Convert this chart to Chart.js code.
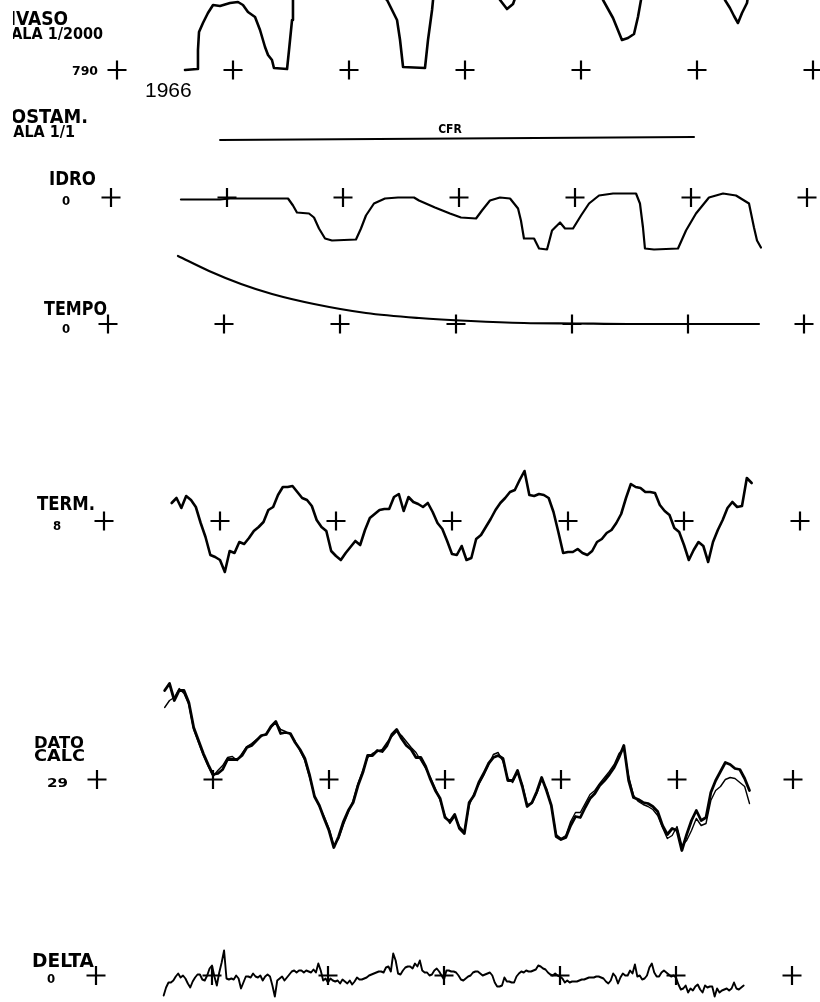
<!DOCTYPE html>
<html>
<head>
<meta charset="utf-8">
<title>Invaso 1966</title>
<script src="https://cdn.jsdelivr.net/npm/chart.js@4.4.0/dist/chart.umd.min.js"></script>
<style>
  html, body { margin: 0; padding: 0; background: #fff; }
  canvas { display: block; }
</style>
</head>
<body>
<canvas id="grafico" width="820" height="1002"></canvas>
<script>
// anni delle croci di riferimento (una croce per anno)
const anniCroci = [1965, 1966, 1967, 1968, 1969, 1970, 1971];

// valori di riferimento scritti accanto alla prima croce
const valoriRif = { invaso: 790, costam: 0, idro: 0, tempo: 0, term: 8, dato: 29, delta: 0 };

// serie fitte: mezzo mese (DELTA un quarto di mese)
const inizioSerie = 1965 + 7 / 12;
const passoSerie = 1 / 24;
const passoDelta = 1 / 48;

// INVASO (scala 1/2000)
const invasoAnni = [1965.586, 1965.690, 1965.698, 1965.707, 1965.741, 1965.784, 1965.828, 1965.888, 1965.974, 1966.043,
  1966.086, 1966.129, 1966.190, 1966.233, 1966.276, 1966.302, 1966.336, 1966.353, 1966.466, 1966.483,
  1966.509, 1966.517, 1966.534, 1966.922, 1967.328, 1967.414, 1967.440, 1967.466, 1967.655, 1967.681,
  1967.716, 1967.733, 1968.000, 1968.276, 1968.302, 1968.362, 1968.414, 1968.457, 1968.819, 1969.147,
  1969.190, 1969.276, 1969.353, 1969.405, 1969.457, 1969.491, 1969.517, 1969.534, 1969.897, 1970.216,
  1970.241, 1970.284, 1970.319, 1970.353, 1970.388, 1970.431, 1970.448, 1970.500];
const invasoQuote = [790, 790.5, 800, 809, 813.5, 818.5, 822.5, 822, 823.5, 824,
  822.5, 819, 816.5, 810, 801.5, 797.5, 795, 791, 790.5, 800,
  815, 825, 835, 845, 825, 815, 805, 791.5, 791, 805,
  820, 830, 845, 830, 825, 820.5, 823, 830, 845, 830,
  825, 816, 805, 806, 808, 816.5, 825, 830, 845, 830,
  825, 821, 817, 813.5, 818.5, 823.5, 830, 840];

// COSTAM. (scala 1/1) - linea CFR
const cfrAnni = [1965.940, 1970.026];
const cfrValori = [2.0, 2.3];

// IDRO
const idroAnni = [1965.603, 1965.940, 1966.026, 1966.526, 1966.569, 1966.603, 1966.707, 1966.750, 1966.793, 1966.845,
  1966.905, 1967.112, 1967.155, 1967.198, 1967.267, 1967.362, 1967.474, 1967.612, 1967.655, 1967.793,
  1967.922, 1968.017, 1968.147, 1968.198, 1968.267, 1968.353, 1968.440, 1968.509, 1968.534, 1968.560,
  1968.647, 1968.690, 1968.759, 1968.802, 1968.871, 1968.914, 1968.983, 1969.052, 1969.121, 1969.207,
  1969.328, 1969.526, 1969.560, 1969.586, 1969.603, 1969.681, 1969.888, 1969.957, 1970.043, 1970.155,
  1970.276, 1970.388, 1970.500, 1970.543, 1970.569, 1970.603];
const idroValori = [-0.2, -0.2, -0.1, -0.1, -0.8, -1.5, -1.6, -2.0, -3.1, -4.1,
  -4.3, -4.2, -3.1, -1.8, -0.6, -0.1, 0, 0, -0.3, -1.0,
  -1.6, -2.0, -2.1, -1.3, -0.3, 0, -0.1, -1.1, -2.3, -4.1,
  -4.1, -5.1, -5.2, -3.3, -2.5, -3.1, -3.1, -1.8, -0.6, 0.2,
  0.4, 0.4, -0.6, -3.0, -5.1, -5.2, -5.1, -3.3, -1.6, 0,
  0.4, 0.2, -0.6, -3.0, -4.3, -5.0];

// TEMPO
const tempoAnni = [1965.603, 1965.871, 1966.147, 1966.414, 1966.776, 1967.224, 1967.681, 1968.129, 1968.586, 1969.034,
  1969.483, 1969.940, 1970.612];
const tempoValori = [68, 53, 40, 30, 20, 11, 6, 3, 1, 0.5, 0, 0, 0];

// TERM.
const termValori = [11.6, 12.6, 10.6, 13.0, 12.2, 10.8, 7.6, 4.8, 1.2, 0.8,
  0.2, -2.2, 2.0, 1.6, 3.8, 3.4, 4.6, 6.0, 6.8, 7.8,
  10.2, 10.8, 13.2, 14.8, 14.8, 15.0, 13.8, 12.6, 12.2, 11.0,
  8.2, 6.8, 6.0, 2.0, 1.0, 0.2, 1.6, 2.8, 4.0, 3.2,
  6.2, 8.6, 9.4, 10.2, 10.4, 10.4, 12.8, 13.4, 10.0, 12.8,
  11.8, 11.4, 10.8, 11.6, 9.8, 7.6, 6.4, 4.0, 1.4, 1.2,
  3.0, 0.2, 0.6, 4.4, 5.2, 6.8, 8.4, 10.2, 11.6, 12.6,
  13.8, 14.2, 16.2, 18.0, 13.2, 13.0, 13.4, 13.2, 12.6, 9.8,
  5.8, 1.6, 1.8, 1.8, 2.4, 1.6, 1.2, 2.0, 3.8, 4.4,
  5.6, 6.2, 7.6, 9.4, 12.6, 15.4, 14.8, 14.6, 13.8, 13.8,
  13.6, 11.2, 10.0, 9.2, 6.6, 5.8, 3.2, 0.2, 2.2, 3.8,
  3.0, -0.2, 3.8, 6.2, 8.2, 10.6, 11.8, 10.8, 11.0, 16.6,
  15.6];

// DATO e CALC
const datoValori = [37.9, 38.6, 36.9, 37.9, 37.9, 36.7, 34.2, 32.9, 31.6, 30.5,
  29.5, 29.6, 30.0, 31.0, 31.0, 31.0, 31.4, 32.2, 32.4, 32.9,
  33.4, 33.5, 34.3, 34.8, 33.6, 33.7, 33.6, 32.7, 32.0, 31.1,
  29.4, 27.3, 26.4, 25.1, 23.9, 22.2, 23.3, 24.8, 25.9, 26.7,
  28.4, 29.7, 31.4, 31.4, 31.9, 31.8, 32.4, 33.5, 34.0, 33.1,
  32.4, 32.0, 31.2, 31.2, 30.3, 29.0, 27.9, 27.1, 25.2, 24.8,
  25.5, 24.1, 23.6, 26.7, 27.4, 28.7, 29.6, 30.6, 31.2, 31.4,
  31.1, 28.9, 28.9, 29.9, 28.3, 26.3, 26.7, 27.8, 29.2, 27.9,
  26.4, 23.3, 23.0, 23.2, 24.4, 25.3, 25.2, 26.2, 27.1, 27.6,
  28.4, 28.9, 29.5, 30.2, 31.2, 32.4, 28.9, 27.2, 27.0, 26.7,
  26.6, 26.3, 25.8, 24.4, 23.5, 24.1, 23.9, 21.9, 23.5, 24.9,
  25.9, 24.9, 25.2, 27.7, 28.9, 29.8, 30.7, 30.5, 30.1, 30.0,
  29.1, 27.9];
const calcValori = [36.2, 36.9, 37.2, 38.1, 37.6, 36.5, 34.0, 32.7, 31.4, 30.3,
  29.3, 29.9, 30.4, 31.2, 31.3, 30.9, 31.6, 32.3, 32.6, 33.0,
  33.3, 33.6, 34.2, 34.7, 34.0, 33.8, 33.5, 32.8, 31.9, 30.9,
  29.2, 27.4, 26.3, 25.3, 24.1, 22.4, 23.1, 24.5, 25.7, 26.9,
  28.6, 29.9, 31.2, 31.6, 31.8, 32.0, 32.7, 33.3, 33.8, 33.4,
  32.8, 32.2, 31.7, 30.9, 30.1, 29.2, 28.1, 26.9, 25.4, 24.6,
  25.3, 24.3, 23.8, 26.4, 27.6, 28.5, 29.4, 30.4, 31.5, 31.7,
  30.8, 29.1, 28.7, 29.7, 28.5, 26.5, 26.6, 27.6, 29.0, 28.1,
  26.3, 23.5, 23.1, 23.4, 24.8, 25.7, 25.7, 26.6, 27.5, 27.9,
  28.6, 29.2, 29.8, 30.5, 31.6, 32.1, 29.3, 27.4, 26.8, 26.5,
  26.3, 26.0, 25.4, 24.2, 23.1, 23.4, 24.3, 22.4, 22.9, 23.9,
  25.1, 24.4, 24.6, 26.9, 27.9, 28.3, 29.0, 29.2, 29.1, 28.7,
  28.3, 26.6];

// DELTA (quarto di mese)
const deltaValori = [-1.00, -0.60, -0.35, -0.35, -0.25, -0.05, 0.10, -0.10, 0.00, -0.15,
  -0.40, -0.60, -0.30, -0.10, 0.05, 0.05, -0.20, -0.25, 0.00, 0.35,
  0.50, -0.05, -0.50, 0.15, 0.65, 1.25, -0.15, -0.20, -0.15, -0.20,
  0.00, -0.15, -0.65, -0.35, -0.05, -0.05, -0.10, 0.10, -0.05, -0.10,
  0.00, -0.25, -0.05, 0.05, -0.05, -0.50, -1.05, -0.25, -0.15, -0.05,
  -0.25, -0.10, 0.05, 0.20, 0.25, 0.15, 0.25, 0.25, 0.15, 0.25,
  0.20, 0.15, 0.30, 0.15, 0.60, 0.25, -0.25, -0.15, -0.35, -0.15,
  -0.25, -0.30, -0.25, -0.40, -0.20, -0.30, -0.40, -0.25, -0.45, -0.30,
  -0.10, -0.20, -0.20, -0.15, -0.10, 0.00, 0.05, 0.10, 0.15, 0.20,
  0.20, 0.15, 0.40, 0.45, 0.20, 1.10, 0.75, 0.10, 0.05, 0.25,
  0.40, 0.45, 0.45, 0.35, 0.60, 0.45, 0.75, 0.25, 0.15, 0.15,
  0.00, 0.05, 0.25, 0.35, 0.20, 0.00, -0.20, 0.25, 0.25, 0.20,
  0.20, 0.15, 0.00, -0.20, -0.25, -0.15, -0.05, 0.00, 0.15, 0.20,
  0.20, 0.10, 0.00, 0.05, 0.10, 0.15, 0.00, -0.35, -0.55, -0.55,
  -0.50, -0.10, -0.30, -0.30, -0.35, -0.35, -0.05, 0.10, 0.20, 0.15,
  0.25, 0.20, 0.20, 0.25, 0.30, 0.50, 0.45, 0.35, 0.30, 0.15,
  0.05, 0.00, 0.10, 0.00, -0.05, -0.15, -0.35, -0.25, -0.35, -0.30,
  -0.30, -0.30, -0.25, -0.20, -0.20, -0.15, -0.10, -0.10, -0.10, -0.05,
  -0.05, -0.10, -0.15, -0.30, -0.40, -0.25, 0.10, -0.05, -0.40, -0.10,
  0.10, 0.00, 0.00, 0.25, 0.10, 0.55, -0.05, 0.00, -0.20, -0.15,
  0.00, 0.40, 0.60, 0.15, -0.05, -0.05, 0.15, 0.25, 0.15, 0.05,
  -0.05, 0.00, -0.10, -0.45, -0.70, -0.65, -0.50, -0.85, -0.65, -0.75,
  -0.55, -0.45, -0.70, -0.85, -0.50, -0.60, -0.55, -0.55, -1.05, -0.65,
  -0.85, -0.75, -0.70, -0.65, -0.75, -0.65, -0.35, -0.65, -0.70, -0.60,
  -0.50];

// --- impaginazione: ogni striscia ha la sua origine e la sua scala ---
const W = 820, H = 1002, pxAnno = 116;
const strisce = {
  invaso: { origineX: 117, baseY: 70, perPx: 0.5 },
  costam: { origineX: 111, baseY: 160, perPx: 0.1 },
  idro: { origineX: 111, baseY: 197.5, perPx: 0.1 },
  tempo: { origineX: 108, baseY: 324, perPx: 1 },
  term: { origineX: 104, baseY: 521, perPx: 0.2 },
  dato: { origineX: 97, baseY: 779.5, perPx: 0.1 },
  delta: { origineX: 96, baseY: 975.5, perPx: 0.05 }
};

const scales = {};
Object.keys(strisce).forEach(id => {
  const s = strisce[id];
  const rif = valoriRif[id];
  const xMin = 1965 - s.origineX / pxAnno;
  scales['x_' + id] = { type: 'linear', axis: 'x', display: false, min: xMin, max: xMin + W / pxAnno };
  scales['y_' + id] = { type: 'linear', axis: 'y', display: false,
    min: rif - (H - s.baseY) * s.perPx, max: rif + s.baseY * s.perPx };
});

const griglia = (valori, passo) => valori.map((_, i) => inizioSerie + i * passo);

function traccia(id, anni, valori, spessore, extra) {
  return Object.assign({
    type: 'line',
    data: anni.map((a, i) => ({ x: a, y: valori[i] })),
    xAxisID: 'x_' + id,
    yAxisID: 'y_' + id,
    borderColor: '#000',
    borderWidth: spessore,
    pointRadius: 0,
    tension: 0,
    fill: false,
    borderJoinStyle: 'round',
    borderCapStyle: 'round'
  }, extra || {});
}

function croci(id) {
  return {
    type: 'line',
    data: anniCroci.map(a => ({ x: a, y: valoriRif[id] })),
    xAxisID: 'x_' + id,
    yAxisID: 'y_' + id,
    showLine: false,
    pointStyle: 'cross',
    pointRadius: 9.5,
    pointBorderWidth: 2.2,
    pointBorderColor: '#000',
    borderColor: '#000'
  };
}

const datasets = [
  traccia('invaso', invasoAnni, invasoQuote, 2.6),
  traccia('costam', cfrAnni, cfrValori, 2),
  traccia('idro', idroAnni, idroValori, 2.2),
  traccia('tempo', tempoAnni, tempoValori, 2.2, { cubicInterpolationMode: 'monotone' }),
  traccia('term', griglia(termValori, passoSerie), termValori, 2.6),
  traccia('dato', griglia(datoValori, passoSerie), datoValori, 2.8),
  traccia('dato', griglia(calcValori, passoSerie), calcValori, 1.4),
  traccia('delta', griglia(deltaValori, passoDelta), deltaValori, 1.9)
];
['invaso', 'idro', 'tempo', 'term', 'dato', 'delta'].forEach(id => datasets.push(croci(id)));

// scritte del plotter
const famiglia = "'DejaVu Sans Condensed', 'DejaVu Sans', sans-serif";
const fontGrande = "bold 19px " + famiglia;
const fontMedio = "bold 16px " + famiglia;
const fontPiccolo = "bold 13px " + famiglia;
const fontMini = "bold 12px " + famiglia;
const fontAnno = "21px 'Liberation Sans', Arial, sans-serif";

// larg = larghezza voluta (la scritta viene stretta o allargata)
const scritte = [
  { testo: 'INVASO', x: 68, y: 25, allinea: 'right', font: fontGrande },
  { testo: 'SCALA 1/2000', x: 103, y: 39, allinea: 'right', font: fontMedio },
  { testo: String(valoriRif.invaso), x: 98, y: 75, allinea: 'right', font: fontPiccolo, larg: 26 },
  { testo: '1966', x: 145, y: 97, allinea: 'left', font: fontAnno },
  { testo: 'COSTAM.', x: 88, y: 123, allinea: 'right', font: fontGrande, larg: 90 },
  { testo: 'SCALA 1/1', x: 75, y: 137, allinea: 'right', font: fontMedio },
  { testo: 'CFR', x: 450, y: 133, allinea: 'center', font: fontMini },
  { testo: 'IDRO', x: 49, y: 185, allinea: 'left', font: fontGrande, larg: 47 },
  { testo: String(valoriRif.idro), x: 62, y: 205, allinea: 'left', font: fontPiccolo },
  { testo: 'TEMPO', x: 44, y: 315, allinea: 'left', font: fontGrande, larg: 63 },
  { testo: String(valoriRif.tempo), x: 62, y: 333, allinea: 'left', font: fontPiccolo },
  { testo: 'TERM.', x: 37, y: 510, allinea: 'left', font: fontGrande, larg: 58 },
  { testo: String(valoriRif.term), x: 53, y: 530, allinea: 'left', font: fontPiccolo },
  { testo: 'DATO', x: 34, y: 748, allinea: 'left', font: fontMedio, larg: 50 },
  { testo: 'CALC', x: 34, y: 761, allinea: 'left', font: fontMedio, larg: 51 },
  { testo: String(valoriRif.dato), x: 47, y: 787, allinea: 'left', font: fontPiccolo, larg: 21 },
  { testo: 'DELTA', x: 32, y: 967, allinea: 'left', font: fontGrande, larg: 62 },
  { testo: String(valoriRif.delta), x: 47, y: 983, allinea: 'left', font: fontPiccolo }
];

const pluginScritte = {
  id: 'scritte',
  beforeDraw(chart) {
    const ctx = chart.ctx;
    ctx.save();
    ctx.fillStyle = '#fff';
    ctx.fillRect(0, 0, chart.width, chart.height);
    ctx.restore();
  },
  afterDraw(chart) {
    const ctx = chart.ctx;
    ctx.save();
    // il foglio scansionato e' tagliato a sinistra
    ctx.beginPath();
    ctx.rect(13, 0, chart.width, chart.height);
    ctx.clip();
    ctx.fillStyle = '#000';
    ctx.textBaseline = 'alphabetic';
    scritte.forEach(s => {
      ctx.font = s.font;
      const w = ctx.measureText(s.testo).width;
      const larg = s.larg || w;
      let sinistra = s.x;
      if (s.allinea === 'right') sinistra = s.x - larg;
      if (s.allinea === 'center') sinistra = s.x - larg / 2;
      ctx.save();
      ctx.translate(sinistra, s.y);
      ctx.scale(larg / w, 1);
      ctx.textAlign = 'left';
      ctx.fillText(s.testo, 0, 0);
      ctx.restore();
    });
    ctx.restore();
  }
};

new Chart(document.getElementById('grafico').getContext('2d'), {
  type: 'line',
  data: { datasets },
  options: {
    responsive: false,
    maintainAspectRatio: false,
    devicePixelRatio: 1,
    animation: false,
    events: [],
    layout: { padding: 0, autoPadding: false },
    plugins: { legend: { display: false }, tooltip: { enabled: false } },
    scales
  },
  plugins: [pluginScritte]
});
</script>
</body>
</html>
